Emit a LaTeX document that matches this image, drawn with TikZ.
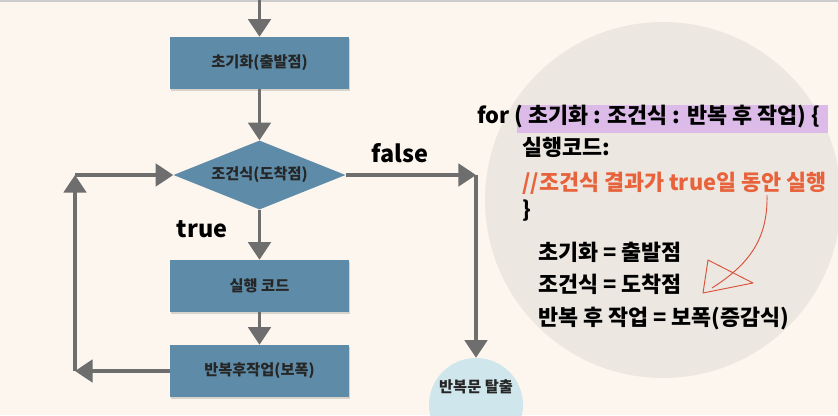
\documentclass[tikz,border=0pt]{standalone}
\usepackage{fontspec}
\setmainfont{Noto Sans CJK KR}
\usetikzlibrary{arrows.meta,shapes.geometric,shadows}
\definecolor{paper}{HTML}{FCF6EE}
\definecolor{boxblue}{HTML}{5E8BA7}
\definecolor{flowgray}{HTML}{6E6E6E}
\definecolor{discgray}{HTML}{ECE7E0}
\definecolor{exitblue}{HTML}{CFE6EC}
\definecolor{marker}{HTML}{DDBBE8}
\definecolor{remark}{HTML}{E8633C}
\definecolor{pen}{HTML}{D9523C}

\begin{document}
\begin{tikzpicture}[x=0.03cm,y=-0.03cm,
  stepbox/.style={fill=boxblue,minimum width=5.37cm,minimum height=1.56cm,inner sep=0pt,
    font=\fontsize{13}{15}\selectfont\bfseries,text=black!85,
    drop shadow={opacity=0.3,shadow xshift=1pt,shadow yshift=-1.5pt}},
  testbox/.style={diamond,fill=boxblue,minimum width=5.16cm,minimum height=2.07cm,inner sep=0pt,
    aspect=2.5,font=\fontsize{13}{15}\selectfont\bfseries,text=black!85},
  flow/.style={draw=flowgray,line width=3.4pt,-{Triangle[length=15pt,width=19pt]}},
  tag/.style={font=\fontsize{20}{23}\selectfont\bfseries},
  codeline/.style={anchor=base west,inner sep=0pt,font=\fontsize{18.6}{22}\selectfont\bfseries}]
  \useasboundingbox (0,0) rectangle (838,415);
  \clip (0,0) rectangle (838,415);
  \fill[paper] (0,0) rectangle (838,415);
  \draw[black!20,line width=1.5pt] (0,0.8) -- (838,0.8);
  \fill[discgray] (663,200) circle (178);
  \fill[marker] (517,105) rectangle (828,133);

  \node[stepbox] (init) at (259.5,63) {초기화(출발점)};
  \node[testbox] (cond) at (259.5,175) {조건식(도착점)};
  \node[stepbox] (body) at (259.5,286) {실행 코드};
  \node[stepbox] (update) at (259.5,371) {반복후작업(보폭)};
  \node[circle,fill=exitblue,minimum size=2.82cm,inner sep=0pt] (exit) at (476,405) {};
  \node[font=\fontsize{13}{15}\selectfont\bfseries,text=black!85] (exitlabel) at (476,387) {반복문 탈출};
  \coordinate (entry) at (259.5,0);
  \coordinate (backlow) at (75,371);
  \coordinate (backhigh) at (75,175);
  \coordinate (exitturn) at (476,175);

  \draw[flow] (entry) -- (init);
  \draw[flow] (init) -- (cond);
  \draw[flow] (cond) -- (body);
  \draw[flow] (body) -- (update);
  \draw[flow] (update) -- (backlow);
  \draw[flow] (backlow) -- (backhigh);
  \draw[flow] (backhigh) -- (cond);
  \draw[flow] (cond) -- (exitturn);
  \draw[flow] (exitturn) -- (exit);
  \node[tag] (falsetag) at (400,153) {false};
  \node[tag] (truetag) at (202,229) {true};

  \node[codeline] (forline) at (477,123) {for ( 초기화 : 조건식 : 반복 후 작업) \{};
  \node[codeline] (runline) at (522,155) {실행코드:};
  \node[codeline,text=remark] (remarkline) at (522,190) {//조건식 결과가 true일 동안 실행};
  \node[codeline] (closeline) at (522,217) {\}};
  \node[codeline] (initeq) at (538,260) {초기화 = 출발점};
  \node[codeline] (condeq) at (538,292) {조건식 = 도착점};
  \node[codeline] (updateeq) at (538,325) {반복 후 작업 = 보폭(증감식)};

  \draw[pen,line width=0.8pt] (767,195) .. controls (768,240) and (748,265) .. (712,288);
  \draw[pen,line width=0.8pt,line join=round] (708,260) -- (703,293) -- (753,283) -- cycle;
\end{tikzpicture}
\end{document}
